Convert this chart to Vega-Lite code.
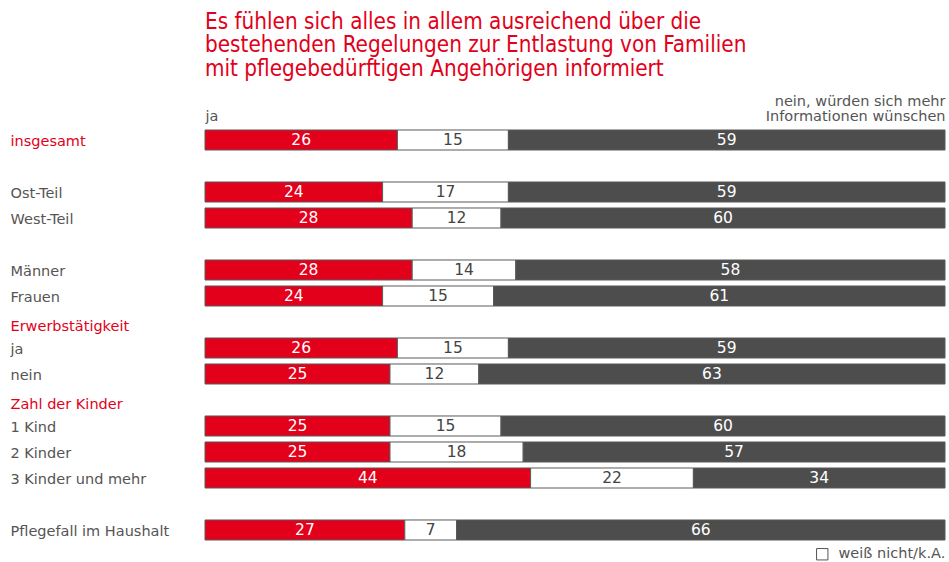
{
  "$schema": "https://vega.github.io/schema/vega-lite/v6.json",
  "width": 740,
  "height": 416,
  "autosize": {"type": "none"},
  "padding": {"left": 205, "top": 127, "right": 4, "bottom": 19},
  "background": "white",
  "title": {
    "text": ["Es fühlen sich alles in allem ausreichend über die", "bestehenden Regelungen zur Entlastung von Familien", "mit pflegebedürftigen Angehörigen informiert"],
    "anchor": "start",
    "frame": "group",
    "font": "DejaVu Sans Condensed",
    "fontSize": 22.3,
    "fontWeight": "normal",
    "color": "#e2001a",
    "lineHeight": 23.5,
    "offset": 13
  },
  "config": {"view": {"stroke": null}},
  "data": {
    "values": [
      {"row": "insgesamt", "cat": "ja", "k": 1, "v": 26},
      {"row": "insgesamt", "cat": "weiß nicht/k.A.", "k": 2, "v": 15},
      {"row": "insgesamt", "cat": "nein", "k": 3, "v": 59},
      {"row": "Ost-Teil", "cat": "ja", "k": 1, "v": 24},
      {"row": "Ost-Teil", "cat": "weiß nicht/k.A.", "k": 2, "v": 17},
      {"row": "Ost-Teil", "cat": "nein", "k": 3, "v": 59},
      {"row": "West-Teil", "cat": "ja", "k": 1, "v": 28},
      {"row": "West-Teil", "cat": "weiß nicht/k.A.", "k": 2, "v": 12},
      {"row": "West-Teil", "cat": "nein", "k": 3, "v": 60},
      {"row": "Männer", "cat": "ja", "k": 1, "v": 28},
      {"row": "Männer", "cat": "weiß nicht/k.A.", "k": 2, "v": 14},
      {"row": "Männer", "cat": "nein", "k": 3, "v": 58},
      {"row": "Frauen", "cat": "ja", "k": 1, "v": 24},
      {"row": "Frauen", "cat": "weiß nicht/k.A.", "k": 2, "v": 15},
      {"row": "Frauen", "cat": "nein", "k": 3, "v": 61},
      {"row": "ja", "cat": "ja", "k": 1, "v": 26},
      {"row": "ja", "cat": "weiß nicht/k.A.", "k": 2, "v": 15},
      {"row": "ja", "cat": "nein", "k": 3, "v": 59},
      {"row": "nein", "cat": "ja", "k": 1, "v": 25},
      {"row": "nein", "cat": "weiß nicht/k.A.", "k": 2, "v": 12},
      {"row": "nein", "cat": "nein", "k": 3, "v": 63},
      {"row": "1 Kind", "cat": "ja", "k": 1, "v": 25},
      {"row": "1 Kind", "cat": "weiß nicht/k.A.", "k": 2, "v": 15},
      {"row": "1 Kind", "cat": "nein", "k": 3, "v": 60},
      {"row": "2 Kinder", "cat": "ja", "k": 1, "v": 25},
      {"row": "2 Kinder", "cat": "weiß nicht/k.A.", "k": 2, "v": 18},
      {"row": "2 Kinder", "cat": "nein", "k": 3, "v": 57},
      {"row": "3 Kinder und mehr", "cat": "ja", "k": 1, "v": 44},
      {"row": "3 Kinder und mehr", "cat": "weiß nicht/k.A.", "k": 2, "v": 22},
      {"row": "3 Kinder und mehr", "cat": "nein", "k": 3, "v": 34},
      {"row": "Pflegefall im Haushalt", "cat": "ja", "k": 1, "v": 27},
      {"row": "Pflegefall im Haushalt", "cat": "weiß nicht/k.A.", "k": 2, "v": 7},
      {"row": "Pflegefall im Haushalt", "cat": "nein", "k": 3, "v": 66}
    ]
  },
  "transform": [
    {"stack": "v", "groupby": ["row"], "sort": [{"field": "k", "order": "ascending"}], "as": ["x0", "x1"]},
    {"calculate": "(datum.x0 + datum.x1) / 2", "as": "xm"}
  ],
  "encoding": {
    "y": {
      "field": "row",
      "type": "nominal",
      "title": null,
      "scale": {
        "domain": ["insgesamt", "_1", "Ost-Teil", "West-Teil", "_2", "Männer", "Frauen", "Erwerbstätigkeit", "ja", "nein", "Zahl der Kinder", "1 Kind", "2 Kinder", "3 Kinder und mehr", "_3", "Pflegefall im Haushalt"],
        "paddingInner": 0.23,
        "paddingOuter": 0.115
      },
      "axis": {
        "orient": "left",
        "domain": false,
        "ticks": false,
        "tickSize": 0,
        "labelAlign": "left",
        "labelPadding": 195,
        "labelFont": "DejaVu Sans",
        "labelFontSize": 14.5,
        "labelLimit": 200,
        "labelExpr": "indexof(datum.value, '_') == 0 ? '' : datum.value",
        "labelOffset": {
          "condition": {"test": "datum.value == 'Erwerbstätigkeit' || datum.value == 'Zahl der Kinder'", "value": 5},
          "value": 1.5
        },
        "labelColor": {
          "condition": {"test": "datum.value == 'insgesamt' || datum.value == 'Erwerbstätigkeit' || datum.value == 'Zahl der Kinder'", "value": "#e2001a"},
          "value": "#555555"
        }
      }
    }
  },
  "layer": [
    {
      "mark": {"type": "bar", "stroke": "#5a5a5a", "strokeWidth": 1},
      "encoding": {
        "x": {
          "field": "x0",
          "type": "quantitative",
          "title": null,
          "scale": {"domain": [0, 100], "nice": false},
          "axis": {
            "orient": "top",
            "values": [0, 100],
            "domain": false,
            "ticks": false,
            "tickSize": 0,
            "grid": false,
            "labelPadding": {"condition": {"test": "datum.value == 0", "value": 4}, "value": 19},
            "labelFont": "DejaVu Sans",
            "labelFontSize": 14.5,
            "labelColor": "#555555",
            "labelBaseline": "bottom",
            "labelLineHeight": 15,
            "labelAlign": {"condition": {"test": "datum.value == 0", "value": "left"}, "value": "right"},
            "labelExpr": "datum.value == 0 ? 'ja' : ['nein, würden sich mehr', 'Informationen wünschen']"
          }
        },
        "x2": {"field": "x1"},
        "color": {
          "field": "cat",
          "type": "nominal",
          "scale": {"domain": ["ja", "weiß nicht/k.A.", "nein"], "range": ["#e2001a", "#ffffff", "#4d4d4d"]},
          "legend": {
            "values": ["weiß nicht/k.A."],
            "title": null,
            "orient": "none",
            "legendX": 610,
            "legendY": 420,
            "symbolType": "square",
            "symbolSize": 130,
            "symbolStrokeColor": "#555555",
            "symbolStrokeWidth": 1,
            "labelOffset": 9,
            "labelFont": "DejaVu Sans",
            "labelFontSize": 14.5,
            "labelColor": "#555555"
          }
        }
      }
    },
    {
      "mark": {"type": "text", "font": "DejaVu Sans", "fontSize": 15.5, "baseline": "middle"},
      "encoding": {
        "x": {"field": "xm", "type": "quantitative"},
        "text": {"field": "v", "type": "quantitative"},
        "color": {
          "condition": {"test": "datum.cat == 'weiß nicht/k.A.'", "value": "#444444"},
          "value": "#ffffff"
        }
      }
    }
  ]
}
